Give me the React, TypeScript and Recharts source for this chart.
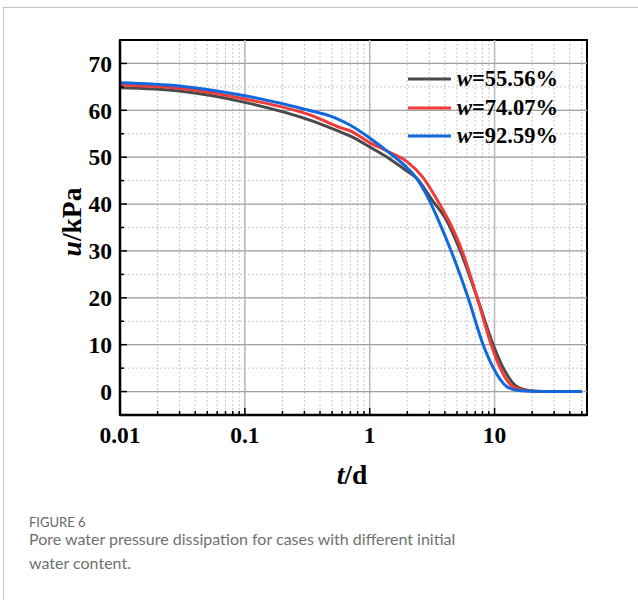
import React from "react";
import {
  LineChart,
  Line,
  XAxis,
  YAxis,
  CartesianGrid,
  ReferenceLine,
  ReferenceArea,
  Legend,
} from "recharts";

// time (d) and pore water pressure u (kPa) for each case
const tA = [0.01, 0.03, 0.1, 0.35, 0.58, 0.7, 1, 1.38, 2, 2.36, 3.15, 4.09, 5.3, 7.26, 9.75, 11.7, 15.2, 19.3, 25, 50];
const uA = [64.8, 64.1, 61.7, 57.7, 55.4, 54.5, 52.2, 50.0, 47.0, 45.6, 40.9, 36.7, 30.1, 20.0, 10.0, 5.1, 1.0, 0.2, 0, 0];

const tB = [0.01, 0.03, 0.1, 0.35, 0.58, 0.7, 1, 1.38, 2, 2.63, 3.47, 4.25, 5.5, 7.26, 9.4, 11.1, 14.1, 18.2, 25, 50];
const uB = [65.4, 64.7, 62.4, 58.8, 56.3, 55.6, 53.1, 51.3, 49.0, 45.9, 40.9, 36.7, 30.0, 20.0, 10.0, 5.0, 1.0, 0.15, 0, 0];

const tC = [0.01, 0.03, 0.1, 0.35, 0.48, 0.58, 0.7, 1, 1.38, 2, 2.36, 2.99, 3.53, 4.49, 6.14, 8.1, 9.75, 12.6, 16, 25, 50];
const uC = [65.9, 65.2, 63.1, 59.8, 58.8, 57.9, 56.8, 54.1, 51.3, 47.7, 45.6, 40.9, 36.7, 30.0, 20.0, 10.0, 5.1, 1.0, 0.15, 0, 0];

const xTicks = [
  0.01, 0.02, 0.03, 0.04, 0.05, 0.06, 0.07, 0.08, 0.09, 0.1, 0.2, 0.3, 0.4, 0.5,
  0.6, 0.7, 0.8, 0.9, 1, 2, 3, 4, 5, 6, 7, 8, 9, 10, 20, 30, 40, 50,
];
const xMajor = [0.01, 0.1, 1, 10];
const yTicks = [0, 5, 10, 15, 20, 25, 30, 35, 40, 45, 50, 55, 60, 65, 70];
const yMajor = [0, 10, 20, 30, 40, 50, 60, 70];

const series = [
  { key: "a", label: "55.56%", color: "#4a4a4a", t: tA, u: uA },
  { key: "b", label: "74.07%", color: "#f23a3a", t: tB, u: uB },
  { key: "c", label: "92.59%", color: "#1168dc", t: tC, u: uC },
];

const serif = "'Liberation Serif', 'Times New Roman', serif";

const XTick = (props: any) => {
  const { x, y, payload } = props;
  const major = xMajor.includes(payload.value);
  return (
    <g>
      <line x1={x} x2={x} y1={y} y2={y - (major ? 7 : 4)} stroke="#000" strokeWidth={1.5} />
      {major && (
        <text x={x} y={y + 28} textAnchor="middle" fontFamily={serif} fontWeight="bold" fontSize={23.5} fill="#000">
          {String(payload.value)}
        </text>
      )}
    </g>
  );
};

const YTick = (props: any) => {
  const { x, y, payload } = props;
  const major = yMajor.includes(payload.value);
  return (
    <g>
      <line x1={x} x2={x + (major ? 7 : 4)} y1={y} y2={y} stroke="#000" strokeWidth={1.5} />
      {major && (
        <text x={x - 8} y={y} dy="0.35em" textAnchor="end" fontFamily={serif} fontWeight="bold" fontSize={23.5} fill="#000">
          {payload.value}
        </text>
      )}
    </g>
  );
};

const LegendBox = () => (
  <div style={{ fontFamily: serif, fontWeight: "bold", fontSize: 22.5, color: "#000" }}>
    {series.map((s) => (
      <div key={s.key} style={{ display: "flex", alignItems: "center", height: 28.5 }}>
        <svg width={49} height={28} style={{ display: "block" }}>
          <line x1={0} x2={43} y1={14} y2={14} stroke={s.color} strokeWidth={3} />
        </svg>
        <span style={{ whiteSpace: "nowrap" }}>
          <i>w</i>={s.label}
        </span>
      </div>
    ))}
  </div>
);

export default function App() {
  return (
    <div
      style={{
        position: "absolute",
        left: 0,
        top: 0,
        width: 638,
        height: 600,
        overflow: "hidden",
        background: "#fff",
      }}
    >
      <div
        style={{
          position: "absolute",
          left: 3,
          top: 7,
          width: 700,
          height: 700,
          borderLeft: "1px solid #c4c4c4",
          borderTop: "1px solid #c4c4c4",
        }}
      />
      <div style={{ position: "absolute", left: 0, top: 0 }}>
        <LineChart
          width={638}
          height={480}
          margin={{ top: 40, right: 51, left: 60, bottom: 25 }}
        >
          <CartesianGrid stroke="#c8c8c8" strokeDasharray="2 2" strokeWidth={1} />
          {xMajor.slice(1).map((v) => (
            <ReferenceLine key={"x" + v} x={v} stroke="#b8b8b8" strokeWidth={1.5} />
          ))}
          {yMajor.map((v) => (
            <ReferenceLine key={"y" + v} y={v} stroke="#a0a0a0" strokeWidth={1.3} />
          ))}
          <XAxis
            dataKey="t"
            type="number"
            scale="log"
            domain={[0.01, 55]}
            allowDataOverflow
            ticks={xTicks}
            interval={0}
            tickSize={0}
            tickMargin={0}
            tickLine={false}
            tick={XTick}
            height={40}
            axisLine={{ stroke: "#000", strokeWidth: 2.5 }}
          />
          <YAxis
            type="number"
            domain={[-5, 75]}
            ticks={yTicks}
            interval={0}
            tickSize={0}
            tickMargin={0}
            tickLine={false}
            tick={YTick}
            width={60}
            axisLine={{ stroke: "#000", strokeWidth: 2.5 }}
          />
          {series.map((s) => (
            <Line
              key={s.key}
              data={s.t.map((t, i) => ({ t, u: s.u[i] }))}
              type="monotone"
              dataKey="u"
              stroke={s.color}
              strokeWidth={3}
              dot={false}
              isAnimationActive={false}
            />
          ))}
          <ReferenceArea
            x1={0.01}
            x2={55}
            y1={-5}
            y2={75}
            fill="none"
            fillOpacity={0}
            stroke="#000"
            strokeWidth={2}
          />
          <Legend
            layout="vertical"
            align="center"
            verticalAlign="middle"
            content={() => <LegendBox />}
            wrapperStyle={{ left: 408, top: 65, width: "auto", height: "auto" }}
          />
        </LineChart>
      </div>
      <div
        style={{
          position: "absolute",
          left: 72,
          top: 222,
          transform: "translate(-50%, -50%) rotate(-90deg)",
          fontFamily: serif,
          fontWeight: "bold",
          fontSize: 27.5,
          whiteSpace: "nowrap",
        }}
      >
        <i>u</i>/kPa
      </div>
      <div
        style={{
          position: "absolute",
          left: 352,
          top: 475,
          transform: "translate(-50%, -50%)",
          fontFamily: serif,
          fontWeight: "bold",
          fontSize: 27.5,
          whiteSpace: "nowrap",
        }}
      >
        <i>t</i>/d
      </div>
      <div
        style={{
          position: "absolute",
          left: 29,
          top: 516.7,
          fontFamily: "Lato, sans-serif",
          fontSize: 13,
          lineHeight: "10px",
          color: "#666",
        }}
      >
        FIGURE 6
      </div>
      <div
        style={{
          position: "absolute",
          left: 29,
          top: 527,
          width: 450,
          fontFamily: "Lato, sans-serif",
          fontSize: 16,
          lineHeight: "24px",
          color: "#707070",
        }}
      >
        Pore water pressure dissipation for cases with different initial water
        content.
      </div>
    </div>
  );
}
